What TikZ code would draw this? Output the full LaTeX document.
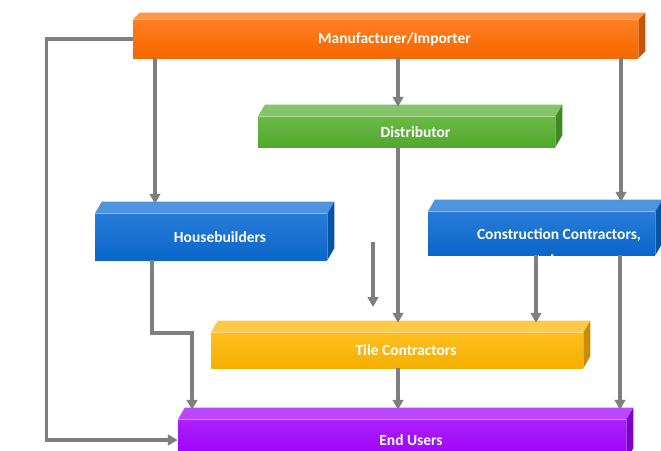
\documentclass[tikz,border=0pt]{standalone}
\usepackage{fontspec}
\setmainfont{Carlito}
\usetikzlibrary{arrows.meta,calc}
\newcommand\pxu{0.025cm}
\definecolor{orng}{HTML}{FF6C00}
\definecolor{grn}{HTML}{55AF2E}
\definecolor{blu}{HTML}{0A6AD2}
\definecolor{ylw}{HTML}{FFB600}
\definecolor{prpl}{HTML}{A100FF}
\definecolor{arrowgray}{HTML}{7F7F7F}

\begin{document}
\begin{tikzpicture}[x=\pxu, y=-\pxu, >={Triangle[length=7pt,width=7.5pt]},
  flow/.style={->, draw=arrowgray, line width=2.2pt},
  lbl/.style={text=white, font=\bfseries\fontsize{11}{13}\selectfont, xshift=9*\pxu},
  slab/.style n args={3}{top color=#1!88!white, bottom color=#1!96!black,
    minimum width=#2*\pxu, minimum height=#3*\pxu, inner sep=0pt}]
\useasboundingbox (0,0) rectangle (661,450);
\clip (0,0) rectangle (661,450);

% front faces
\node[slab={orng}{505}{38}, label={[lbl,name=mfr-l]center:Manufacturer/Importer}] (mfr) at (385.5,39) {};
\node[slab={grn}{297}{30}, label={[lbl,name=dist-l]center:Distributor}] (dist) at (406.5,132) {};
\node[slab={blu}{232}{46}, label={[lbl,name=house-l]center:Housebuilders}] (house) at (211,237) {};
\node[slab={blu}{227}{43}] (cons) at (541.5,233.5) {};
\node[slab={ylw}{372}{35}, label={[lbl,name=tile-l]center:Tile Contractors}] (tile) at (397,350.5) {};
\node[slab={prpl}{448}{40}, label={[lbl,name=end-l]center:End Users}] (end) at (402,440) {};

% top and side faces
\foreach \n/\c/\dy in {mfr/orng/7, dist/grn/12, house/blu/12, cons/blu/12, tile/ylw/12, end/prpl/12} {
  \fill[\c!72!white] (\n.north west) -- ++(7,-\dy) -- ($(\n.north east)+(7,-\dy)$) -- (\n.north east) -- cycle;
  \fill[\c!78!black] (\n.north east) -- ++(7,-\dy) -- ($(\n.south east)+(7,-\dy)$) -- (\n.south east) -- cycle;
  \coordinate (\n-t) at ($(\n.north)+(0,-\dy+2)$);
}

\begin{scope}
  \clip (cons.south west) rectangle (cons.north east);
  \node[lbl, xshift=0pt, align=center, anchor=north]
    (cons-l) at (550,224) {Construction Contractors,\\[5pt]Leisure};
\end{scope}

\coordinate (s1) at (373,242);
\coordinate (s2) at (373,307);

% connectors
\draw[flow] (mfr.west) -- ++(-86,0) |- (end.west);
\draw[flow] (mfr.south -| 155,0) -- (house-t -| 155,0);
\draw[flow] (mfr.south -| 398,0) -- (dist-t -| 398,0);
\draw[flow] (mfr.south -| 621,0) -- (cons-t -| 621,0);
\draw[flow] (house.south -| 152,0) -- (152,333) -| (end-t -| 192,0);
\draw[flow] (s1) -- (s2);
\draw[flow] (dist.south -| 398,0) -- (tile-t -| 398,0);
\draw[flow] (cons.south -| 536,0) -- (tile-t -| 536,0);
\draw[flow] (cons.south -| 620,0) -- (end-t -| 620,0);
\draw[flow] (tile.south -| 398,0) -- (end-t -| 398,0);
\end{tikzpicture}
\end{document}
